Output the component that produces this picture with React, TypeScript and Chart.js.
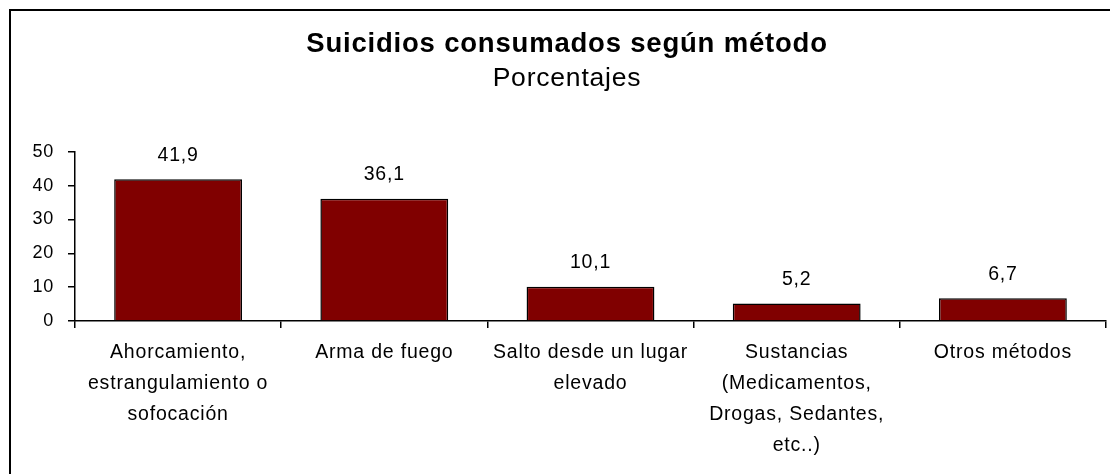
import React, { useEffect, useRef } from "react";
import { Chart, registerables } from "chart.js";

Chart.register(...registerables);

const categories: string[][] = [
  ["Ahorcamiento,", "estrangulamiento o", "sofocación"],
  ["Arma de fuego"],
  ["Salto desde un lugar", "elevado"],
  ["Sustancias", "(Medicamentos,", "Drogas, Sedantes,", "etc..)"],
  ["Otros métodos"],
];
const percentages: number[] = [41.9, 36.1, 10.1, 5.2, 6.7];
const yTicks: number[] = [0, 10, 20, 30, 40, 50];
const titleText = "Suicidios consumados según método";
const subtitleText = "Porcentajes";

const FONT = "'Liberation Sans', Arial, sans-serif";
const SPACING = "0.8px";

export default function App() {
  const ref = useRef<HTMLCanvasElement | null>(null);

  useEffect(() => {
    const canvas = ref.current;
    if (!canvas) return;

    const spacingPlugin = {
      id: "spacing",
      beforeUpdate(chart: any) {
        chart.ctx.letterSpacing = SPACING;
      },
      beforeDraw(chart: any) {
        chart.ctx.letterSpacing = SPACING;
      },
    };

    const valueLabels = {
      id: "valueLabels",
      afterDatasetsDraw(chart: any) {
        const ctx = chart.ctx;
        const meta = chart.getDatasetMeta(0);
        ctx.save();
        ctx.letterSpacing = SPACING;
        ctx.font = `19.5px ${FONT}`;
        ctx.fillStyle = "#000";
        ctx.textAlign = "center";
        ctx.textBaseline = "middle";
        meta.data.forEach((bar: any, i: number) => {
          const v = percentages[i];
          ctx.fillText(v.toFixed(1).replace(".", ","), bar.x, bar.y - 24);
        });
        ctx.restore();
      },
    };

    const chart = new Chart(canvas, {
      type: "bar",
      data: {
        labels: categories,
        datasets: [
          {
            data: percentages,
            backgroundColor: "#800000",
            borderColor: "#000000",
            borderWidth: 1.5,
            categoryPercentage: 1,
            barPercentage: 0.62,
          },
        ],
      },
      options: {
        animation: false,
        responsive: false,
        maintainAspectRatio: false,
        layout: { padding: { left: 28, right: 4, top: 0, bottom: 0 } },
        plugins: {
          legend: { display: false },
          tooltip: { enabled: false },
          title: {
            display: true,
            text: titleText,
            color: "#000",
            font: { family: FONT, size: 27.5, weight: "bold", lineHeight: 1.2 },
            padding: { top: 28, bottom: 0 },
          },
          subtitle: {
            display: true,
            text: subtitleText,
            color: "#000",
            font: { family: FONT, size: 26.5, weight: "normal", lineHeight: 1.2 },
            padding: { top: 2, bottom: 57 },
          },
        },
        scales: {
          x: {
            afterFit: (s: any) => {
              s.height = 153;
            },
            grid: {
              offset: true,
              drawOnChartArea: false,
              drawTicks: true,
              tickLength: 7,
              color: "#000",
              lineWidth: 1.5,
            },
            border: { display: true, color: "#000", width: 1.5 },
            ticks: {
              color: "#000",
              padding: 9,
              maxRotation: 0,
              autoSkip: false,
              font: { family: FONT, size: 19.5, lineHeight: "31px" },
            },
          },
          y: {
            min: 0,
            max: 50,
            afterFit: (s: any) => {
              s.width = 47;
            },
            afterBuildTicks: (s: any) => {
              s.ticks = yTicks.map((v) => ({ value: v }));
            },
            grid: {
              drawOnChartArea: false,
              drawTicks: true,
              tickLength: 7,
              color: "#000",
              lineWidth: 1.5,
            },
            border: { display: true, color: "#000", width: 1.5 },
            ticks: {
              color: "#000",
              padding: 14,
              font: { family: FONT, size: 18 },
            },
          },
        },
      },
      plugins: [spacingPlugin, valueLabels],
    });

    return () => chart.destroy();
  }, []);

  return (
    <div
      style={{
        position: "fixed",
        left: 0,
        top: 0,
        width: 1110,
        height: 474,
        overflow: "hidden",
        background: "#fff",
      }}
    >
      <div
        style={{
          position: "absolute",
          left: 9,
          top: 9,
          width: 1120,
          height: 480,
          borderTop: "2px solid #000",
          borderLeft: "2px solid #000",
        }}
      />
      <canvas
        ref={ref}
        width={1110}
        height={474}
        style={{ position: "absolute", left: 0, top: 0, width: 1110, height: 474 }}
      />
    </div>
  );
}
